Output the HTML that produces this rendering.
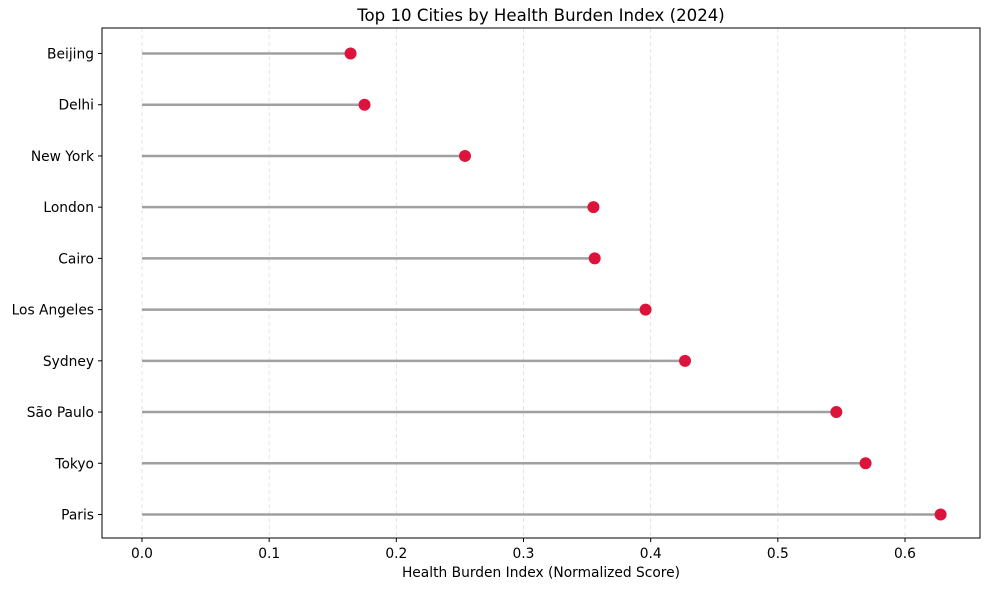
<!DOCTYPE html>
<html><head><meta charset="utf-8"><style>
body{margin:0;background:#fff;font-family:"Liberation Sans","DejaVu Sans",sans-serif;}
svg text{font-family:"DejaVu Sans","Liberation Sans",sans-serif;}
</style></head><body>
<svg id="chart" width="989" height="590" xmlns="http://www.w3.org/2000/svg"></svg>
<script>
const cities = ["Beijing","Delhi","New York","London","Cairo","Los Angeles","Sydney","São Paulo","Tokyo","Paris"];
const values = [0.164,0.175,0.254,0.355,0.356,0.396,0.427,0.546,0.569,0.628];
const ticks = [0,0.1,0.2,0.3,0.4,0.5,0.6];
const tickLabels = ["0.0","0.1","0.2","0.3","0.4","0.5","0.6"];
const NS="http://www.w3.org/2000/svg";
const svg=document.getElementById('chart');
const L=102,R=980,T=28,B=538;
const x=v=>142+v*(905-142)/0.6;
const y=i=>53.5+i*(514.5-53.5)/9;
function mk(t,a,p){const e=document.createElementNS(NS,t);for(const k in a)e.setAttribute(k,a[k]);(p||svg).appendChild(e);return e;}
const title=mk('text',{x:541,y:21,'text-anchor':'middle','font-size':16.6,fill:'#000'});title.textContent="Top 10 Cities by Health Burden Index (2024)";


ticks.forEach((t,i)=>{
 const g=mk('line',{x1:x(t),x2:x(t),y1:T,y2:B,stroke:'#ddd','stroke-dasharray':'4,3','stroke-width':0.8});
 
 
 const tk=mk('line',{x1:x(t),x2:x(t),y1:B,y2:B+4,stroke:'#000'});
 
 
 const lb=mk('text',{x:x(t),y:B+20,'text-anchor':'middle','font-size':13.8});lb.textContent=tickLabels[i];
 
 
});
cities.forEach((c,i)=>{
 const st=mk('line',{x1:x(0),x2:x(values[i]),y1:y(i),y2:y(i),stroke:'#a0a0a0','stroke-width':2.5});
 
 
 const d=mk('circle',{cx:x(values[i]),cy:y(i),r:6,fill:'#dc143c'});
 
 
 const tk=mk('line',{x1:L-4,x2:L,y1:y(i),y2:y(i),stroke:'#000'});
 
 
 const lb=mk('text',{x:L-8,y:y(i)+5,'text-anchor':'end','font-size':13.8});lb.textContent=c;
 
 
});
const fr=mk('rect',{x:L,y:T,width:R-L,height:B-T,fill:'none',stroke:'#000','stroke-width':1});


const xt=mk('text',{x:541,y:577,'text-anchor':'middle','font-size':13.8});xt.textContent="Health Burden Index (Normalized Score)";


</script>
</body></html>
